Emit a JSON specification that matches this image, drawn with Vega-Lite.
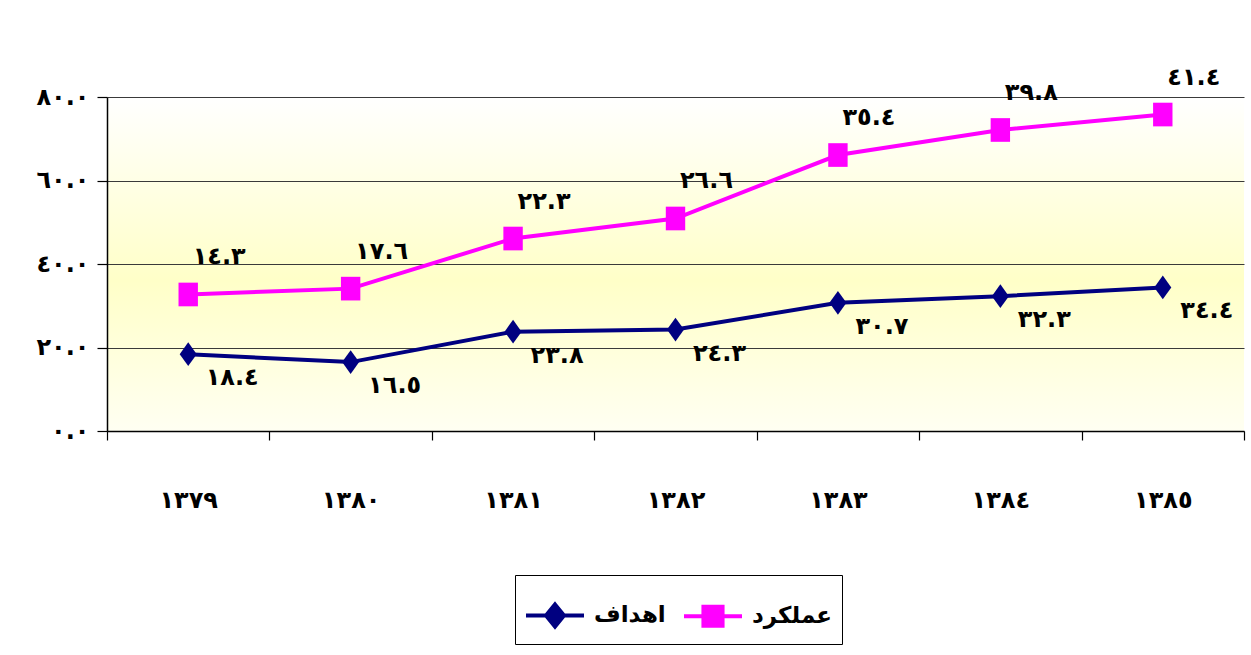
{
  "$schema": "https://vega.github.io/schema/vega-lite/v6.json",
  "width": 1137,
  "height": 334,
  "autosize": "none",
  "padding": {"left": 107, "top": 97, "right": 7, "bottom": 224},
  "background": "white",
  "config": {
    "view": {
      "stroke": null,
      "fill": {"gradient": "linear", "x1": 0, "y1": 0, "x2": 0, "y2": 1,
        "stops": [{"offset": 0, "color": "#ffffff"}, {"offset": 0.55, "color": "#ffffc8"}, {"offset": 1, "color": "#fffff2"}]}
    },
    "font": "DejaVu Sans"
  },
  "data": {
    "values": [
      {"year": "١٣٧٩", "series": "اهداف", "order": 1, "value": 18.4, "label": "١٨.٤"},
      {"year": "١٣٨٠", "series": "اهداف", "order": 1, "value": 16.5, "label": "١٦.٥"},
      {"year": "١٣٨١", "series": "اهداف", "order": 1, "value": 23.8, "label": "٢٣.٨"},
      {"year": "١٣٨٢", "series": "اهداف", "order": 1, "value": 24.3, "label": "٢٤.٣"},
      {"year": "١٣٨٣", "series": "اهداف", "order": 1, "value": 30.7, "label": "٣٠.٧"},
      {"year": "١٣٨٤", "series": "اهداف", "order": 1, "value": 32.3, "label": "٣٢.٣"},
      {"year": "١٣٨٥", "series": "اهداف", "order": 1, "value": 34.4, "label": "٣٤.٤"},
      {"year": "١٣٧٩", "series": "عملکرد", "order": 2, "value": 14.3, "label": "١٤.٣"},
      {"year": "١٣٨٠", "series": "عملکرد", "order": 2, "value": 17.6, "label": "١٧.٦"},
      {"year": "١٣٨١", "series": "عملکرد", "order": 2, "value": 22.3, "label": "٢٢.٣"},
      {"year": "١٣٨٢", "series": "عملکرد", "order": 2, "value": 26.6, "label": "٢٦.٦"},
      {"year": "١٣٨٣", "series": "عملکرد", "order": 2, "value": 35.4, "label": "٣٥.٤"},
      {"year": "١٣٨٤", "series": "عملکرد", "order": 2, "value": 39.8, "label": "٣٩.٨"},
      {"year": "١٣٨٥", "series": "عملکرد", "order": 2, "value": 41.4, "label": "٤١.٤"}
    ]
  },
  "transform": [
    {"stack": "value", "groupby": ["year"], "sort": [{"field": "order", "order": "ascending"}], "as": ["v0", "v1"]}
  ],
  "encoding": {
    "x": {
      "field": "year", "type": "ordinal", "sort": null, "bandPosition": 0.5,
      "scale": {"type": "band", "paddingInner": 0, "paddingOuter": 0},
      "axis": {
        "title": null, "tickBand": "extent", "grid": false, "labelAngle": 0,
        "domainColor": "black", "domainWidth": 1.5, "tickColor": "black", "tickWidth": 1.2, "tickSize": 9,
        "labelPadding": 48, "labelFontSize": 24, "labelFontWeight": "bold", "labelColor": "black"
      }
    },
    "y": {
      "field": "v1", "type": "quantitative",
      "scale": {"domain": [0, 80], "nice": false, "zero": true},
      "axis": {
        "title": null, "values": [0, 20, 40, 60, 80],
        "labelExpr": "replace(replace(replace(replace(replace(format(datum.value,'.1f'),regexp('0','g'),'٠'),regexp('2','g'),'٢'),regexp('4','g'),'٤'),regexp('6','g'),'٦'),regexp('8','g'),'٨')",
        "grid": true, "gridColor": "#3a3a3a", "gridWidth": 1,
        "domainColor": "black", "domainWidth": 1.5, "tickColor": "black", "tickWidth": 1.2, "tickSize": 10,
        "labelPadding": 8, "labelFontSize": 24, "labelFontWeight": "bold", "labelColor": "black"
      }
    }
  },
  "layer": [
    {
      "mark": {"type": "line", "strokeWidth": 4},
      "encoding": {
        "detail": {"field": "series", "type": "nominal"},
        "color": {"condition": {"test": "datum.series === 'اهداف'", "value": "#000080"}, "value": "#ff00ff"}
      }
    },
    {
      "mark": {"type": "point", "filled": true, "opacity": 1, "size": 560},
      "encoding": {
        "color": {"condition": {"test": "datum.series === 'اهداف'", "value": "#000080"}, "value": "#ff00ff"},
        "shape": {"condition": {"test": "datum.series === 'اهداف'", "value": "M0,-1L0.72,0L0,1L-0.72,0Z"}, "value": "M-0.82,-1H0.82V1H-0.82Z"}
      }
    },
    {
      "transform": [{"filter": "datum.series === 'اهداف'"}],
      "mark": {"type": "text", "dx": 44, "dy": 24, "fontSize": 24, "fontWeight": "bold", "color": "black"},
      "encoding": {"text": {"field": "label"}}
    },
    {
      "transform": [{"filter": "datum.series === 'عملکرد'"}],
      "mark": {"type": "text", "dx": 31, "dy": -37, "fontSize": 24, "fontWeight": "bold", "color": "black"},
      "encoding": {"text": {"field": "label"}}
    },
    {
      "transform": [{"filter": "false"}],
      "mark": {"type": "point", "filled": true, "opacity": 1, "strokeWidth": 4},
      "encoding": {
        "color": {
          "field": "series", "type": "nominal",
          "scale": {"domain": ["اهداف", "عملکرد"], "range": ["#000080", "#ff00ff"]},
          "legend": {
            "title": null, "orient": "none", "legendX": 408, "legendY": 478, "direction": "horizontal", "columns": 2,
            "strokeColor": "black", "fillColor": "white", "padding": 9, "columnPadding": 10,
            "symbolSize": 3364, "symbolStrokeWidth": 4, "symbolOpacity": 1,
            "labelFontSize": 23, "labelFontWeight": "bold", "labelColor": "black", "labelOffset": 8, "labelLimit": 300
          }
        },
        "stroke": {
          "field": "series", "type": "nominal",
          "scale": {"domain": ["اهداف", "عملکرد"], "range": ["#000080", "#ff00ff"]},
          "legend": {
            "title": null, "orient": "none", "legendX": 408, "legendY": 478, "direction": "horizontal", "columns": 2,
            "strokeColor": "black", "fillColor": "white", "padding": 9, "columnPadding": 10,
            "symbolSize": 3364, "symbolStrokeWidth": 4, "symbolOpacity": 1,
            "labelFontSize": 23, "labelFontWeight": "bold", "labelColor": "black", "labelOffset": 8, "labelLimit": 300
          }
        },
        "shape": {
          "field": "series", "type": "nominal",
          "scale": {"domain": ["اهداف", "عملکرد"], "range": ["M-1,0H-0.3M0,-0.38L0.31,0L0,0.38L-0.31,0ZM0.3,0H1", "M-1,0H-0.33M-0.33,-0.33H0.33V0.33H-0.33ZM0.33,0H1"]},
          "legend": {
            "title": null, "orient": "none", "legendX": 408, "legendY": 478, "direction": "horizontal", "columns": 2,
            "strokeColor": "black", "fillColor": "white", "padding": 9, "columnPadding": 10,
            "symbolSize": 3364, "symbolStrokeWidth": 4, "symbolOpacity": 1,
            "labelFontSize": 23, "labelFontWeight": "bold", "labelColor": "black", "labelOffset": 8, "labelLimit": 300
          }
        }
      }
    }
  ]
}
